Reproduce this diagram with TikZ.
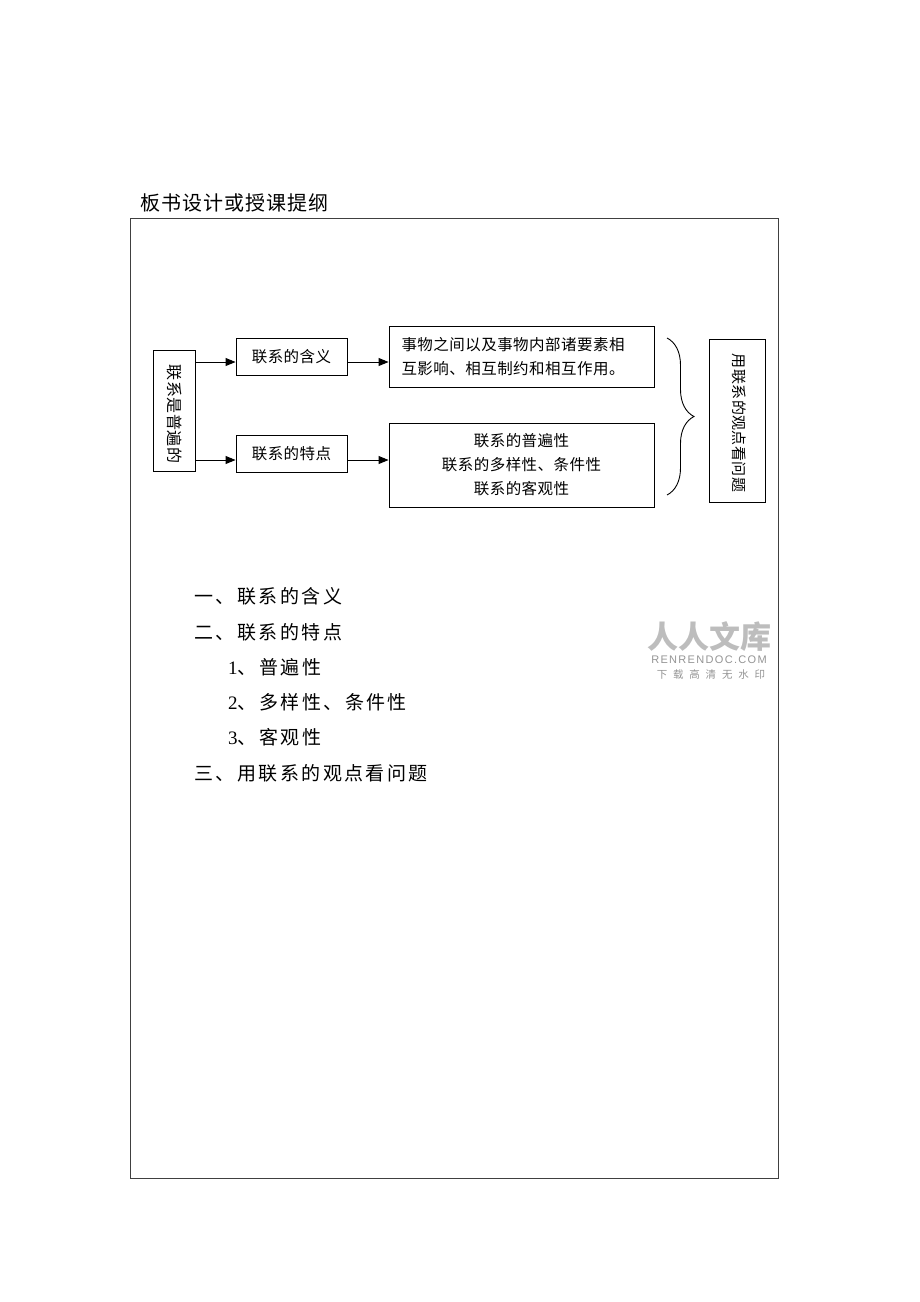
\documentclass[tikz,border=0pt]{standalone}
\usepackage{fontspec}
\setmainfont{Liberation Serif}
\newfontfamily\cjktitle[LetterSpace=5]{Noto Sans CJK SC}
\newfontfamily\cjklist[LetterSpace=13]{Noto Sans CJK SC}
\newfontfamily\cjkbox[LetterSpace=3]{Noto Sans CJK SC}
\newfontfamily\cjkplain{Noto Sans CJK SC}
\newfontfamily\wmsans[LetterSpace=12]{Liberation Sans}
\newfontfamily\wmcjk[LetterSpace=55]{Noto Sans CJK SC}
\newfontfamily\numfont{Liberation Serif}
\usetikzlibrary{decorations.pathreplacing, arrows.meta}
\begin{document}
\begin{tikzpicture}[x=1pt,y=-1pt,
  box/.style={draw=black, line width=0.9pt, inner sep=0pt},
  boxtext/.style={font=\cjkbox\fontsize{15.5}{24}\selectfont},
  arr/.style={line width=0.9pt, -{Triangle[length=10pt,width=8pt]}},
  listtext/.style={anchor=west, font=\cjklist\fontsize{19}{20}\selectfont, inner sep=0pt},
  wm/.style={text=black!26}
]
\useasboundingbox (0,0) rectangle (920,1302);
% title and frame
\node[anchor=west, inner sep=0pt, font=\cjktitle\fontsize{20}{22}\selectfont] (title) at (140,203) {板书设计或授课提纲};
\node[draw=black!75, line width=0.9pt, minimum width=648pt, minimum height=960pt, inner sep=0pt] (frame) at (454,698) {};
% diagram
\node[box, minimum width=42pt, minimum height=121pt] (v) at (174,410.5) {};
\node[rotate=-90, inner sep=0pt, font=\cjkbox\fontsize{16}{17}\selectfont] (vt) at (175,414) {联系是普遍的};
\node[box, minimum width=111pt, minimum height=37pt, boxtext] (a) at (291.5,356.5) {联系的含义};
\node[box, minimum width=111pt, minimum height=37pt, boxtext] (b) at (291.5,453.5) {联系的特点};
\node[box, minimum width=265pt, minimum height=61pt, text width=240pt, align=left, boxtext] (c) at (521.5,356.5) {事物之间以及事物内部诸要素相\\互影响、相互制约和相互作用。};
\node[box, minimum width=265pt, minimum height=84pt, align=center, boxtext] (d) at (521.5,465) {联系的普遍性\\联系的多样性、条件性\\联系的客观性};
\node[box, minimum width=56pt, minimum height=163pt] (r) at (737,420.5) {};
\node[rotate=-90, inner sep=0pt, font=\cjkbox\fontsize{15}{16}\selectfont] (rt) at (739,423) {用联系的观点看问题};
\coordinate (bt) at (667,338);
\coordinate (bb) at (667,495);
\draw[line width=0.9pt, decorate, decoration={brace, amplitude=27pt, aspect=0.5}] (bt) -- (bb);
\draw[arr] (v.east |- 0,362) -- (a.west |- 0,362);
\draw[arr] (v.east |- 0,460) -- (b.west |- 0,460);
\draw[arr] (a.east |- 0,362) -- (c.west |- 0,362);
\draw[arr] (b.east |- 0,460) -- (d.west |- 0,460);
% outline list
\node[listtext] (l1) at (194,596) {一、联系的含义};
\node[listtext] (l2) at (194,632) {二、联系的特点};
\node[listtext] (l3) at (228,667) {{\numfont\fontsize{19}{20}\selectfont 1}、普遍性};
\node[listtext] (l4) at (228,702) {{\numfont\fontsize{19}{20}\selectfont 2}、多样性、条件性};
\node[listtext] (l5) at (228,737) {{\numfont\fontsize{19}{20}\selectfont 3}、客观性};
\node[listtext] (l6) at (194,773) {三、用联系的观点看问题};
% watermark
\node[wm, inner sep=0pt, font=\cjkplain\bfseries\fontsize{31}{32}\selectfont] (w1) at (709,637) {人人文库};
\node[wm, inner sep=0pt, text=black!42, font=\wmsans\fontsize{11}{12}\selectfont] (w2) at (709,660) {RENRENDOC.COM};
\node[wm, inner sep=0pt, text=black!42, font=\wmcjk\fontsize{10.5}{12}\selectfont] (w3) at (711,674) {下载高清无水印};
\end{tikzpicture}
\end{document}
